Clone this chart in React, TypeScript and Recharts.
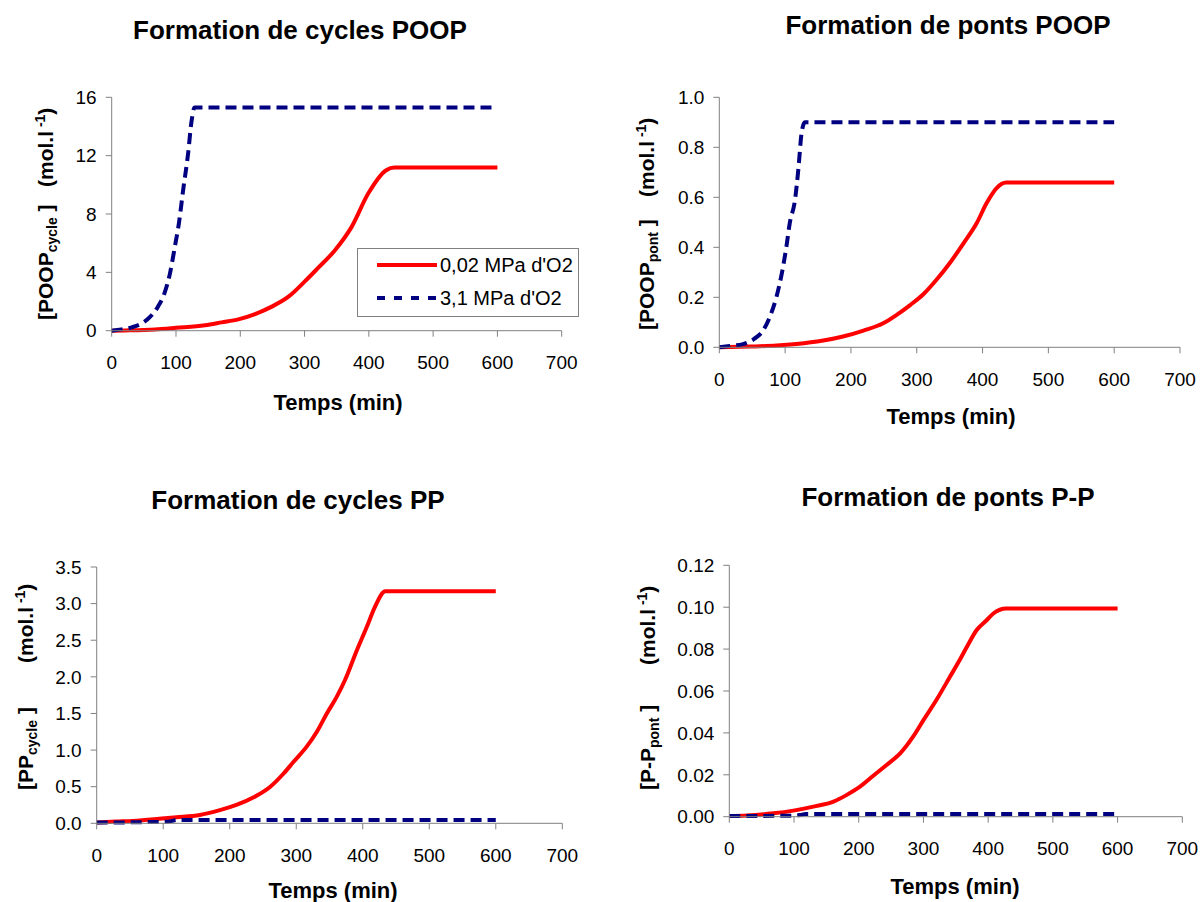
import { LineChart, Line, XAxis, YAxis } from "recharts";

// time (min) and concentration
const cyclesPoopRedT = [0, 21, 67, 100, 145, 171, 197, 223, 249, 275, 300, 321, 347, 373, 399, 427, 440, 600];
const cyclesPoopRedV = [0, 0.02, 0.09, 0.2, 0.37, 0.57, 0.78, 1.14, 1.65, 2.33, 3.36, 4.3, 5.5, 7.1, 9.4, 11.0, 11.18, 11.18];
const cyclesPoopBlueT = [0, 15, 31, 47, 60, 72, 82, 91, 98, 105, 111, 119, 124, 129, 600];
const cyclesPoopBlueV = [0, 0.09, 0.23, 0.5, 0.96, 1.65, 2.56, 4.0, 5.7, 7.5, 9.6, 12.2, 14.3, 15.3, 15.3];

const pontsPoopRedT = [0, 47, 87, 117, 158, 188, 219, 249, 269, 290, 310, 330, 350, 371, 391, 406, 421, 436, 600];
const pontsPoopRedV = [0, 0.003, 0.007, 0.013, 0.027, 0.043, 0.067, 0.096, 0.129, 0.169, 0.212, 0.27, 0.336, 0.416, 0.496, 0.576, 0.636, 0.659, 0.659];
const pontsPoopBlueT = [0, 16, 36, 52, 67, 77, 87, 95, 102, 107, 115, 120, 125, 130, 600];
const pontsPoopBlueV = [0, 0.005, 0.013, 0.032, 0.069, 0.123, 0.203, 0.296, 0.403, 0.496, 0.589, 0.709, 0.856, 0.9, 0.9];

const cyclesPpRedT = [0, 30, 65, 90, 120, 155, 185, 210, 236, 261, 281, 296, 316, 331, 346, 361, 373, 391, 406, 418, 434, 600];
const cyclesPpRedV = [0.01, 0.023, 0.04, 0.059, 0.082, 0.114, 0.18, 0.25, 0.355, 0.5, 0.68, 0.84, 1.05, 1.25, 1.5, 1.73, 1.95, 2.36, 2.68, 2.95, 3.17, 3.17];
const cyclesPpBlueT = [0, 100, 112, 120, 600];
const cyclesPpBlueV = [0.01, 0.02, 0.03, 0.045, 0.045];

const pontsPpRedT = [0, 27, 68, 99, 130, 161, 181, 202, 222, 243, 264, 284, 300, 320, 341, 356, 367, 382, 398, 408, 428, 600];
const pontsPpRedV = [0.0003, 0.0006, 0.0016, 0.0029, 0.0048, 0.0072, 0.0103, 0.0143, 0.0194, 0.0247, 0.0302, 0.0382, 0.0461, 0.0557, 0.0668, 0.0748, 0.081, 0.089, 0.0939, 0.097, 0.0994, 0.0994];
const pontsPpBlueT = [0, 100, 112, 118, 600];
const pontsPpBlueV = [0.0003, 0.0005, 0.001, 0.0013, 0.0013];

const timeTicks = [0, 100, 200, 300, 400, 500, 600, 700];
const ticksCyclesPoop = [0, 4, 8, 12, 16];
const ticksPontsPoop = [0, 0.2, 0.4, 0.6, 0.8, 1.0];
const ticksCyclesPp = [0, 0.5, 1.0, 1.5, 2.0, 2.5, 3.0, 3.5];
const ticksPontsPp = [0, 0.02, 0.04, 0.06, 0.08, 0.1, 0.12];

const FONT = "'Liberation Sans', Arial, sans-serif";
const RED = "#FF0000";
const NAVY = "#000080";
const AXIS = "#808080";

const zip = (t: number[], v: number[]) => t.map((x, i) => ({ t: x, v: v[i] }));

type PanelProps = {
  x: number;
  y: number;
  plot: { l: number; t: number; r: number; b: number };
  red: { t: number; v: number }[];
  blue: { t: number; v: number }[];
  yTicks: number[];
  digits: number;
};

function Panel({ x, y, plot, red, blue, yTicks, digits }: PanelProps) {
  const W = 600;
  const H = 451;
  const yW = 60;
  const xH = 30;
  const margin = {
    left: plot.l - x - yW,
    right: W - (plot.r - x),
    top: plot.t - y,
    bottom: H - (plot.b - y) - xH,
  };
  return (
    <div style={{ position: "absolute", left: x, top: y }}>
      <LineChart width={W} height={H} margin={margin}>
        <XAxis
          type="number"
          dataKey="t"
          domain={[0, 700]}
          ticks={timeTicks}
          height={xH}
          stroke={AXIS}
          tickSize={6}
          tickMargin={19}
          tick={{ fill: "#000", fontSize: 19, fontFamily: FONT }}
        />
        <YAxis
          type="number"
          dataKey="v"
          domain={[0, yTicks[yTicks.length - 1]]}
          ticks={yTicks}
          width={yW}
          stroke={AXIS}
          tickSize={6}
          tickMargin={9}
          tickFormatter={(d: number) => d.toFixed(digits)}
          tick={{ fill: "#000", fontSize: 19, fontFamily: FONT }}
        />
        <Line
          data={red}
          dataKey="v"
          type="monotone"
          stroke={RED}
          strokeWidth={4}
          dot={false}
          isAnimationActive={false}
        />
        <Line
          data={blue}
          dataKey="v"
          type="monotone"
          stroke={NAVY}
          strokeWidth={4}
          strokeDasharray="11 6"
          dot={false}
          isAnimationActive={false}
        />
      </LineChart>
    </div>
  );
}

function YTitle({
  cx,
  startA,
  startB,
  main,
  sub,
}: {
  cx: number;
  startA: number;
  startB: number;
  main: string;
  sub: string;
}) {
  const bx = cx + 8;
  return (
    <g fontFamily={FONT} fontWeight="bold" fill="#000">
      <text transform={`translate(${bx},${startA}) rotate(-90)`} fontSize={21}>
        {main}
        <tspan fontSize={14} dy={4}>{sub}</tspan>
        <tspan dy={-4}> ]</tspan>
      </text>
      <text transform={`translate(${bx},${startB}) rotate(-90)`} fontSize={21}>
        (mol.l
        <tspan fontSize={14} dy={-8}> -1</tspan>
        <tspan dy={8}>)</tspan>
      </text>
    </g>
  );
}

export default function App() {
  return (
    <div
      style={{
        position: "absolute",
        left: 0,
        top: 0,
        width: 1200,
        height: 902,
        background: "#fff",
        fontFamily: FONT,
      }}
    >
      <Panel
        x={0}
        y={0}
        plot={{ l: 111.7, t: 97.3, r: 561.7, b: 330.7 }}
        red={zip(cyclesPoopRedT, cyclesPoopRedV)}
        blue={zip(cyclesPoopBlueT, cyclesPoopBlueV)}
        yTicks={ticksCyclesPoop}
        digits={0}
      />
      <Panel
        x={600}
        y={0}
        plot={{ l: 719.3, t: 97.3, r: 1180, b: 347.3 }}
        red={zip(pontsPoopRedT, pontsPoopRedV)}
        blue={zip(pontsPoopBlueT, pontsPoopBlueV)}
        yTicks={ticksPontsPoop}
        digits={1}
      />
      <Panel
        x={0}
        y={451}
        plot={{ l: 96.7, t: 567, r: 562.3, b: 823.3 }}
        red={zip(cyclesPpRedT, cyclesPpRedV)}
        blue={zip(cyclesPpBlueT, cyclesPpBlueV)}
        yTicks={ticksCyclesPp}
        digits={1}
      />
      <Panel
        x={600}
        y={451}
        plot={{ l: 729.3, t: 565.3, r: 1182.3, b: 816.7 }}
        red={zip(pontsPpRedT, pontsPpRedV)}
        blue={zip(pontsPpBlueT, pontsPpBlueV)}
        yTicks={ticksPontsPp}
        digits={2}
      />

      <svg
        width={1200}
        height={902}
        style={{ position: "absolute", left: 0, top: 0, pointerEvents: "none" }}
      >
        <g fontFamily={FONT} fontWeight="bold" fontSize={26} textAnchor="middle" fill="#000">
          <text x={300} y={39}>Formation de cycles POOP</text>
          <text x={948} y={34}>Formation de ponts POOP</text>
          <text x={298} y={509}>Formation de cycles PP</text>
          <text x={948} y={506}>Formation de ponts P-P</text>
        </g>
        <g fontFamily={FONT} fontWeight="bold" fontSize={22} textAnchor="middle" fill="#000">
          <text x={338} y={410}>Temps (min)</text>
          <text x={951} y={424}>Temps (min)</text>
          <text x={333} y={898}>Temps (min)</text>
          <text x={955} y={894}>Temps (min)</text>
        </g>

        <YTitle cx={45} startA={320} startB={187} main="[POOP" sub="cycle" />
        <YTitle cx={646} startA={330} startB={197} main="[POOP" sub="pont" />
        <YTitle cx={25} startA={790} startB={663} main="[PP" sub="cycle" />
        <YTitle cx={647} startA={790} startB={665} main="[P-P" sub="pont" />

        <g fontFamily={FONT} fontSize={20} fill="#000">
          <rect x={357.5} y={248.5} width={221} height={68} fill="#fff" stroke={AXIS} />
          <line x1={377} x2={437} y1={265} y2={265} stroke={RED} strokeWidth={4} />
          <text x={440} y={272}>0,02 MPa d'O2</text>
          <line x1={377} x2={437} y1={298} y2={298} stroke={NAVY} strokeWidth={4} strokeDasharray="8 9" />
          <text x={440} y={305}>3,1 MPa d'O2</text>
        </g>
      </svg>
    </div>
  );
}
